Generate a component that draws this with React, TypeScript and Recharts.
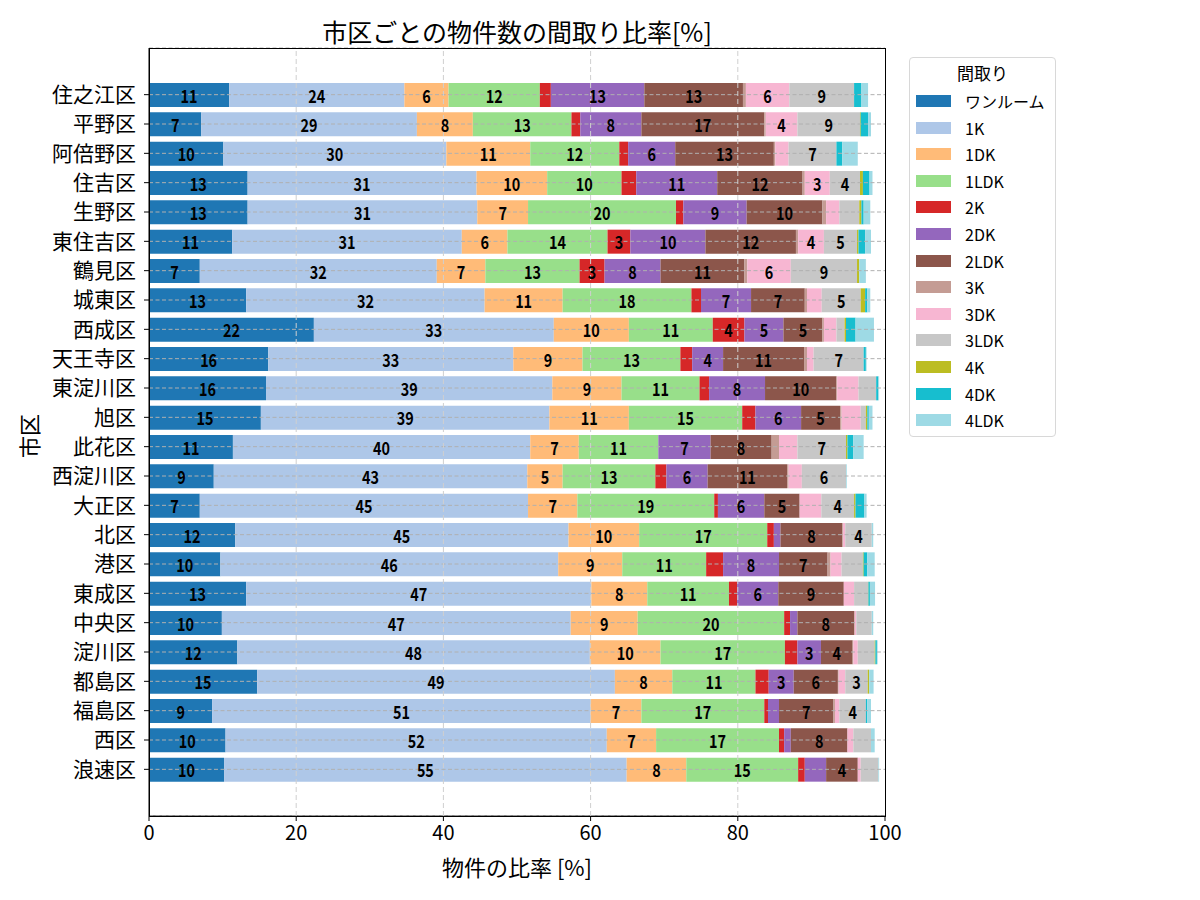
import React from 'react';
import { BarChart, Bar, XAxis, YAxis, CartesianGrid, LabelList, ReferenceLine } from 'recharts';

const wards = [
  '住之江区', '平野区', '阿倍野区', '住吉区', '生野区', '東住吉区', '鶴見区', '城東区',
  '西成区', '天王寺区', '東淀川区', '旭区', '此花区', '西淀川区', '大正区', '北区',
  '港区', '東成区', '中央区', '淀川区', '都島区', '福島区', '西区', '浪速区',
];

const layouts = ['ワンルーム', '1K', '1DK', '1LDK', '2K', '2DK', '2LDK', '3K', '3DK', '3LDK', '4K', '4DK', '4LDK'];
const colors = ['#1f77b4', '#aec7e8', '#ffbb78', '#98df8a', '#d62728', '#9467bd', '#8c564b', '#c49c94', '#f7b6d2', '#c7c7c7', '#bcbd22', '#17becf', '#9edae5'];

// share of listings per layout, one value per ward (same order as wards)
const oneRoom = [10.9, 7.1, 10.1, 13.4, 13.4, 11.3, 6.9, 13.2, 22.4, 16.2, 15.9, 15.2, 11.4, 8.8, 6.9, 11.7, 9.7, 13.2, 9.9, 12.0, 14.7, 8.6, 10.4, 10.2];
const k1 = [23.8, 29.3, 30.3, 31.1, 31.2, 31.2, 32.2, 32.4, 32.6, 33.3, 38.9, 39.2, 40.4, 42.6, 44.6, 45.3, 45.9, 46.9, 47.4, 47.9, 48.6, 51.4, 51.8, 54.7];
const dk1 = [6.0, 7.6, 11.4, 9.6, 6.9, 6.2, 6.6, 10.6, 10.2, 9.4, 9.4, 10.8, 6.6, 4.8, 6.7, 9.6, 8.7, 7.6, 9.1, 9.6, 7.8, 6.9, 6.7, 8.1];
const ldk1 = [12.4, 13.4, 12.1, 10.1, 20.1, 13.6, 12.8, 17.5, 11.4, 13.3, 10.6, 15.4, 10.8, 12.6, 18.6, 17.4, 11.4, 11.1, 19.9, 16.9, 11.3, 16.7, 16.7, 15.2];
const k2 = [1.5, 1.2, 1.2, 2.0, 1.0, 3.1, 3.4, 1.3, 4.3, 1.6, 1.3, 1.8, 0, 1.5, 0.5, 0.9, 2.3, 1.1, 0.8, 1.7, 1.8, 0.5, 0.7, 0.9];
const dk2 = [12.7, 8.3, 6.4, 11.0, 8.6, 10.2, 7.6, 6.8, 5.3, 4.2, 7.6, 6.2, 7.1, 5.6, 6.3, 0.9, 7.6, 5.6, 1.0, 3.2, 3.4, 1.5, 0.9, 2.9];
const ldk2 = [13.4, 16.7, 13.4, 11.6, 10.3, 12.3, 11.4, 7.3, 5.3, 11.0, 9.7, 5.3, 8.3, 10.8, 4.8, 8.4, 6.6, 8.9, 7.7, 4.3, 6.0, 7.4, 7.7, 4.3];
const k3 = [0.4, 0.2, 0.2, 0.3, 0.5, 0.3, 0.4, 0.3, 0.2, 0.4, 0.1, 0.2, 1.0, 0.2, 0, 0.1, 0.4, 0, 0.1, 0.1, 0.1, 0.2, 0, 0];
const dk3 = [5.9, 4.3, 1.8, 3.4, 1.8, 3.5, 5.9, 2.0, 1.7, 0.9, 2.9, 2.6, 2.5, 1.8, 2.95, 0.3, 1.5, 1.4, 0.2, 0.6, 0.9, 0.6, 0.8, 0.4];
const ldk3 = [8.8, 8.5, 6.5, 4.1, 2.7, 4.5, 9.0, 5.3, 1.1, 6.8, 2.4, 0.7, 6.6, 6.0, 4.45, 3.6, 2.9, 1.9, 2.1, 2.3, 3.05, 3.6, 2.4, 2.4];
const k4 = [0, 0.1, 0, 0.4, 0.3, 0.2, 0.3, 0.6, 0.2, 0, 0, 0.2, 0.2, 0, 0.2, 0, 0.1, 0.05, 0, 0.1, 0.2, 0, 0, 0];
const dk4 = [1.0, 1.0, 0.8, 0.9, 0.3, 0.9, 0, 0.3, 1.3, 0.3, 0.3, 0.2, 0.8, 0, 1.2, 0, 0.5, 0.2, 0, 0.2, 0, 0.2, 0, 0];
const ldk4 = [0.9, 0.4, 2.1, 0.4, 0.9, 0.8, 0.9, 0.4, 2.5, 0.1, 0.1, 0.5, 1.4, 0.1, 0.3, 0.2, 1.0, 0.7, 0.2, 0.1, 0.6, 0.5, 0.5, 0.1];

const xTicks = [0, 20, 40, 60, 80, 100];

const seriesValues = [oneRoom, k1, dk1, ldk1, k2, dk2, ldk2, k3, dk3, ldk3, k4, dk4, ldk4];

const rows = wards.map((name, i) => {
  const row: Record<string, any> = { name };
  layouts.forEach((l, j) => { row[l] = seriesValues[j][i]; });
  return row;
});

const FONT = "'Noto Sans CJK JP', 'Noto Sans', sans-serif";
const margin = { top: 48, right: 315, bottom: 0, left: 0 };
const overlayMargin = { top: 48, right: 315, bottom: 84, left: 149 };

// bold, slightly squeezed value label in the middle of a segment (only for >= 3%)
const SegmentLabel = (props: any) => {
  const { x, y, width, height, value } = props;
  const v = Number(value);
  if (!(v >= 3)) return null;
  const cx = Number(x) + Number(width) / 2;
  const cy = Number(y) + Number(height) / 2;
  return (
    <text transform={`translate(${cx},${cy}) scale(0.8,1)`} textAnchor="middle" dominantBaseline="central"
      fontSize={18} fontWeight="bold" fill="#000" fontFamily={FONT}>
      {Math.round(v)}
    </text>
  );
};

const App: React.FC = () => {
  return (
    <div style={{ position: 'relative', width: 1200, height: 900, margin: '-8px 0 0 -8px', fontFamily: FONT, background: '#fff' }}>
      <div style={{ position: 'absolute', left: 0, top: 0 }}>
        <BarChart width={1200} height={900} data={rows} layout="vertical" margin={margin} barSize={24}>
          <XAxis type="number" domain={[0, 100]} ticks={xTicks} height={84} tickSize={5} tickMargin={5}
            tick={{ fontSize: 20, fill: '#000', fontFamily: FONT }} axisLine={{ stroke: '#000' }} tickLine={{ stroke: '#000' }} />
          <YAxis type="category" dataKey="name" width={149} padding={{ top: 32, bottom: 32 }} tickSize={5} tickMargin={8}
            tick={{ fontSize: 21, fill: '#000', fontFamily: FONT }} axisLine={{ stroke: '#000' }} tickLine={{ stroke: '#000' }} interval={0} />
          {layouts.map((l, j) => (
            <Bar key={l} dataKey={l} stackId="a" fill={colors[j]} isAnimationActive={false} />
          ))}
        </BarChart>
      </div>

      {/* grid and value labels sit on top of the bars, like the original */}
      <div style={{ position: 'absolute', left: 0, top: 0, pointerEvents: 'none' }}>
        <BarChart width={1200} height={900} data={rows} layout="vertical" margin={overlayMargin} barSize={24}>
          <CartesianGrid vertical={false} stroke="#b0b0b0" strokeDasharray="4 2.5" />
          <XAxis type="number" domain={[0, 100]} ticks={xTicks} hide />
          <YAxis type="category" dataKey="name" padding={{ top: 32, bottom: 32 }} hide interval={0} />
          {xTicks.slice(1, -1).map((t) => (
            <ReferenceLine key={t} x={t} stroke="#cfcfcf" strokeDasharray="5 3" />
          ))}
          {layouts.map((l) => (
            <Bar key={l} dataKey={l} stackId="a" fill="transparent" isAnimationActive={false}>
              <LabelList dataKey={l} content={SegmentLabel} />
            </Bar>
          ))}
        </BarChart>
      </div>

      <div style={{ position: 'absolute', left: 149, top: 48, width: 737, height: 769, border: '1px solid #000', boxSizing: 'border-box', pointerEvents: 'none' }} />

      <div style={{ position: 'absolute', left: 149, width: 736, top: 13, textAlign: 'center', fontSize: 25, lineHeight: '36px' }}>
        市区ごとの物件数の間取り比率[%]
      </div>
      <div style={{ position: 'absolute', left: 149, width: 736, top: 850, textAlign: 'center', fontSize: 22, lineHeight: '32px' }}>
        物件の比率 [%]
      </div>
      <div style={{ position: 'absolute', left: 28, top: 436, transform: 'translate(-50%, -50%) rotate(-90deg)', fontSize: 22, whiteSpace: 'nowrap' }}>
        市区
      </div>

      <div style={{ position: 'absolute', left: 909, top: 57, width: 147, height: 380, border: '1px solid #d8d8d8', borderRadius: 4, boxSizing: 'border-box' }}>
        <div style={{ textAlign: 'center', fontSize: 17, marginTop: 2, lineHeight: '26px' }}>間取り</div>
        {layouts.map((l, j) => (
          <div key={l} style={{ position: 'absolute', left: 6, top: 36 + j * 26.6, display: 'flex', alignItems: 'center', height: 14 }}>
            <div style={{ width: 35, height: 12, background: colors[j] }} />
            <span style={{ marginLeft: 14, fontSize: 16, whiteSpace: 'nowrap' }}>{l}</span>
          </div>
        ))}
      </div>
    </div>
  );
};

export default App;
